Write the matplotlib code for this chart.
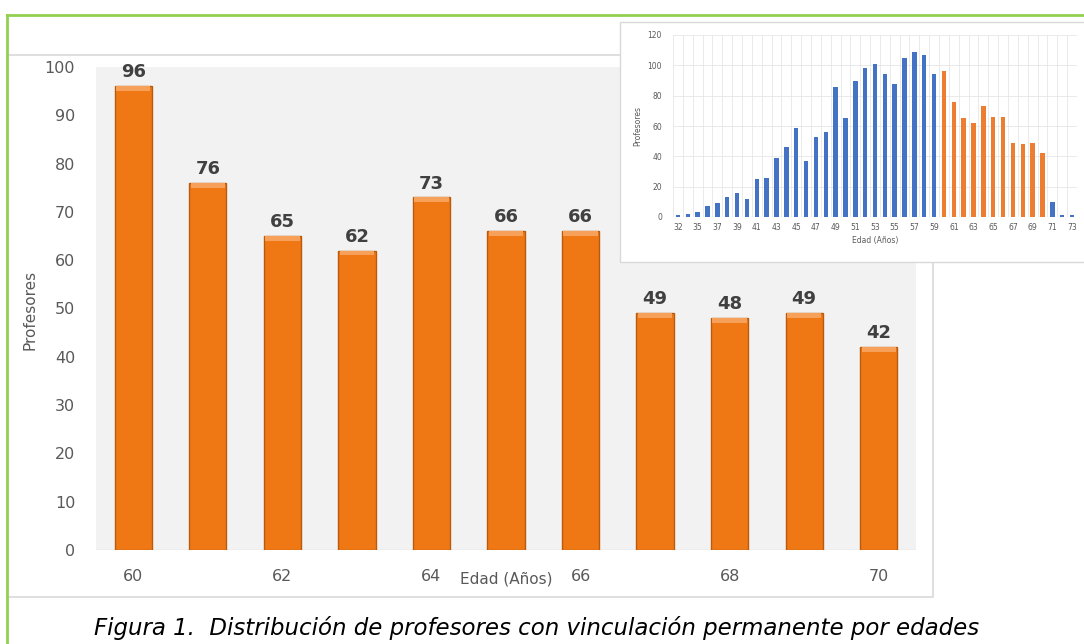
import matplotlib
matplotlib.use('Agg')
from matplotlib import pyplot as plt
from matplotlib.patches import Rectangle
from matplotlib.lines import Line2D
import numpy as np

# main chart: ages 60-70
ages = [60, 61, 62, 63, 64, 65, 66, 67, 68, 69, 70]
profesores = [96, 76, 65, 62, 73, 66, 66, 49, 48, 49, 42]
main_tick_labels = ['60', '', '62', '', '64', '', '66', '', '68', '', '70']

# inset: full age distribution
inset_ages = [32, 34] + list(range(35, 74))
inset_vals = [1, 2, 3, 7, 9, 13, 16, 12, 25, 26, 39, 46, 59, 37, 53, 56, 86, 65,
              90, 98, 101, 94, 88, 105, 109, 107, 94, 96, 76, 65, 62, 73, 66, 66,
              49, 48, 49, 42, 10, 1, 1]

W, H = 1084, 644
fig = plt.figure(figsize=(W / 100, H / 100), dpi=100)
fig.patch.set_facecolor('white')

def fx(px):
    return px / W

def fy(py):
    return 1 - py / H

# outer chart frame (light gray)
fig.add_artist(Rectangle((fx(7), fy(597)), fx(926), 542 / H, transform=fig.transFigure,
                         facecolor='white', edgecolor='#D9D9D9', lw=1.2, zorder=-1))

# green border
fig.add_artist(Line2D([fx(7), fx(7)], [0, fy(15)], color='#92D050', lw=2, transform=fig.transFigure))
fig.add_artist(Line2D([fx(7), 1], [fy(15), fy(15)], color='#92D050', lw=2, transform=fig.transFigure))

# main axes
ax = fig.add_axes([fx(96), fy(550), fx(916 - 96), (550 - 67) / H])
ax.set_facecolor('#F2F2F2')
x = np.arange(len(ages))
bars = ax.bar(x, profesores, width=0.5, color='#F07814', edgecolor='#B95A0C', lw=1.0, zorder=2)
# thin highlight on top of each bar for the bevel look
ax.bar(x, [1.0] * len(x), bottom=np.array(profesores) - 1.0, width=0.46,
       color='#F7A05A', lw=0, zorder=3)
for xi, v in zip(x, profesores):
    ax.text(xi, v + 1.0, str(v), ha='center', va='bottom', fontsize=13,
            fontweight='bold', color='#404040')
ax.set_xlim(-0.5, len(ages) - 0.5)
ax.set_ylim(0, 100)
ax.set_yticks(range(0, 101, 10))
ax.set_xticks(x)
ax.set_xticklabels(main_tick_labels)
ax.tick_params(axis='both', length=0, labelsize=11.5, labelcolor='#595959')
ax.tick_params(axis='x', pad=14)
ax.tick_params(axis='y', pad=15)
for s in ax.spines.values():
    s.set_visible(False)
ax.axhline(0, color='#D9D9D9', lw=1, zorder=1)
ax.text(0.5, -0.06, 'Edad (Años)', transform=ax.transAxes, ha='center', va='center',
        fontsize=11, color='#595959')
fig.text(fx(30), fy(310), 'Profesores', rotation=90, ha='center', va='center',
         fontsize=11, color='#595959')

# inset box
fig.add_artist(Rectangle((fx(620), fy(262)), fx(470), 240 / H, transform=fig.transFigure,
                         facecolor='white', edgecolor='#D9D9D9', lw=1, zorder=5))

iax = fig.add_axes([fx(673), fy(217), fx(1077 - 673), (217 - 35) / H], zorder=6)
iax.set_facecolor('white')
ix = np.arange(len(inset_ages))
icolors = ['#ED7D31' if 60 <= a <= 70 else '#4472C4' for a in inset_ages]
iax.bar(ix, inset_vals, width=0.45, color=icolors, zorder=2)
iax.set_xlim(-0.5, len(ix) - 0.5)
iax.set_ylim(0, 120)
iax.set_yticks(range(0, 121, 20))
iax.set_xticks(ix[::2])
iax.set_xticklabels([str(a) for a in inset_ages[::2]])
iax.set_xticks(np.arange(-0.5, len(ix), 1), minor=True)
iax.grid(axis='y', color='#E6E6E6', lw=0.6, zorder=0)
iax.grid(axis='x', which='minor', color='#E6E6E6', lw=0.6, zorder=0)
iax.tick_params(axis='both', which='both', length=0, labelsize=5.5, labelcolor='#595959')
iax.tick_params(axis='x', pad=4)
iax.tick_params(axis='y', pad=8)
for s in iax.spines.values():
    s.set_visible(False)
iax.set_xlabel('Edad (Años)', fontsize=5.5, color='#595959', labelpad=3)
iax.set_ylabel('Profesores', fontsize=5.5, color='#595959', labelpad=4)

# caption
fig.text(fx(537), fy(628), 'Figura 1.  Distribución de profesores con vinculación permanente por edades',
         ha='center', va='center', fontsize=16.5, style='italic', color='#000000')

fig.savefig('out.png', dpi=100)
